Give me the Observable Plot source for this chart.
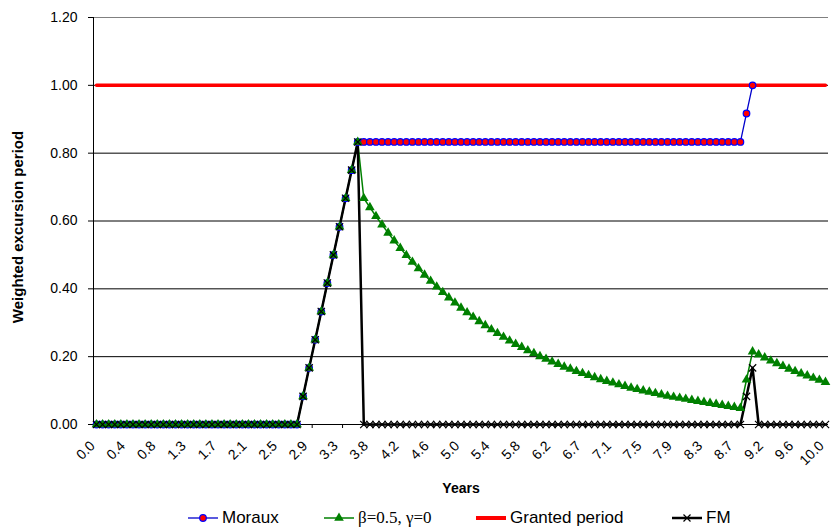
<!DOCTYPE html>
<html>
<head>
<meta charset="utf-8">
<script src="https://cdn.jsdelivr.net/npm/d3@7"></script>
<script src="https://cdn.jsdelivr.net/npm/@observablehq/plot@0.6"></script>
<style>
  html, body { margin: 0; padding: 0; background: #fff; }
  #wrap { position: relative; width: 834px; height: 529px; overflow: hidden; font-family: "Liberation Sans", Arial, sans-serif; }
  #legend { position: absolute; left: 0; top: 506px; width: 834px; height: 23px; }
  .item { position: absolute; top: 0; height: 23px; display: flex; align-items: center; font-size: 17px; color: #000; white-space: nowrap; }
  .item svg { margin-right: 4px; }
  .serif { font-family: "Liberation Serif", "Times New Roman", serif; font-size: 17px; }
</style>
</head>
<body>
<div id="wrap">
  <div id="chart"></div>
  <div id="legend"></div>
</div>
<script>
// x categories: monthly steps 0..120 (years 0.0 .. 10.0)
const tickLabels = ["0.0","0.4","0.8","1.3","1.7","2.1","2.5","2.9","3.3","3.8","4.2","4.6","5.0","5.4","5.8","6.2","6.7","7.1","7.5","7.9","8.3","8.7","9.2","9.6","10.0"];
const yTicks = [0, 0.2, 0.4, 0.6, 0.8, 1.0, 1.2];

const moraux = [
  0,0,0,0,0,0,0,0,0,0,
  0,0,0,0,0,0,0,0,0,0,
  0,0,0,0,0,0,0,0,0,0,
  0,0,0,0,
  0.083,0.167,0.250,0.333,0.417,0.500,0.583,0.667,0.750,
  0.833,0.833,0.833,0.833,0.833,0.833,0.833,0.833,0.833,0.833,
  0.833,0.833,0.833,0.833,0.833,0.833,0.833,0.833,0.833,0.833,
  0.833,0.833,0.833,0.833,0.833,0.833,0.833,0.833,0.833,0.833,
  0.833,0.833,0.833,0.833,0.833,0.833,0.833,0.833,0.833,0.833,
  0.833,0.833,0.833,0.833,0.833,0.833,0.833,0.833,0.833,0.833,
  0.833,0.833,0.833,0.833,0.833,0.833,0.833,0.833,0.833,0.833,
  0.833,0.833,0.833,0.833,
  0.917,1.000,
  null,null,null,null,null,null,null,null,null,null,null,null
];

const betaGamma = [
  0,0,0,0,0,0,0,0,0,0,
  0,0,0,0,0,0,0,0,0,0,
  0,0,0,0,0,0,0,0,0,0,
  0,0,0,0,
  0.083,0.167,0.250,0.333,0.417,0.500,0.583,0.667,0.750,
  0.833,
  0.667,0.640,0.614,0.589,0.565,0.542,0.520,0.499,0.479,0.460,
  0.441,0.423,0.406,0.390,0.374,0.359,0.344,0.330,0.317,0.304,
  0.292,0.280,0.269,0.258,0.247,0.237,0.228,0.218,0.210,0.201,
  0.193,0.185,0.178,0.170,0.164,0.157,0.151,0.145,0.139,0.133,
  0.128,0.123,0.118,0.113,0.108,0.104,0.100,0.096,0.092,0.088,
  0.084,0.081,0.078,0.075,0.072,0.069,0.066,0.063,0.060,0.057,
  0.054,0.051,0.048,
  0.132,0.215,
  0.206,0.197,0.188,0.180,0.172,0.164,0.157,0.150,0.144,0.137,0.131,0.125
];

const granted = [
  1,1,1,1,1,1,1,1,1,1, 1,1,1,1,1,1,1,1,1,1,
  1,1,1,1,1,1,1,1,1,1, 1,1,1,1,1,1,1,1,1,1,
  1,1,1,1,1,1,1,1,1,1, 1,1,1,1,1,1,1,1,1,1,
  1,1,1,1,1,1,1,1,1,1, 1,1,1,1,1,1,1,1,1,1,
  1,1,1,1,1,1,1,1,1,1, 1,1,1,1,1,1,1,1,1,1,
  1,1,1,1,1,1,1,1,1,1, 1,1,1,1,1,1,1,1,1,1,
  1
];

const fm = [
  0,0,0,0,0,0,0,0,0,0,
  0,0,0,0,0,0,0,0,0,0,
  0,0,0,0,0,0,0,0,0,0,
  0,0,0,0,
  0.083,0.167,0.250,0.333,0.417,0.500,0.583,0.667,0.750,
  0.833,
  0,0,0,0,0,0,0,0,0,0,
  0,0,0,0,0,0,0,0,0,0,
  0,0,0,0,0,0,0,0,0,0,
  0,0,0,0,0,0,0,0,0,0,
  0,0,0,0,0,0,0,0,0,0,
  0,0,0,0,0,0,0,0,0,0,
  0,0,0,
  0.083,0.167,
  0,0,0,0,0,0,0,0,0,0,0,0
];

const xi = (d, i) => i;
const yv = d => d;
const labelIdx = tickLabels.map((_, k) => k * 5);
const boundaries = tickLabels.map((_, k) => k * 5 + 0.5).filter(v => v < 120.5);

const chart = Plot.plot({
  width: 834,
  height: 506,
  marginLeft: 93,
  marginRight: 6,
  marginTop: 17,
  marginBottom: 82,
  style: { fontFamily: "'Liberation Sans', Arial, sans-serif", background: "#fff" },
  x: { domain: [-0.5, 120.5], axis: null },
  y: { domain: [0, 1.2], axis: null },
  marks: [
    Plot.ruleY(yTicks.filter(v => v > 0 && v < 1.2), { stroke: "#000", strokeWidth: 1 }),
    Plot.ruleY([1.2], { stroke: "#808080", strokeWidth: 1 }),
    Plot.ruleX([-0.5], { stroke: "#000", strokeWidth: 1 }),
    Plot.ruleY([0], { stroke: "#000", strokeWidth: 1 }),
    Plot.axisY(yTicks, { tickFormat: d => d.toFixed(2), tickSize: 5, tickPadding: 11, fontSize: 14, stroke: "#000", color: "#000", label: null }),
    Plot.axisX(labelIdx, { tickFormat: d => tickLabels[d / 5], tickRotate: -45, tickSize: 0, tickPadding: 19, dx: -4, fontSize: 14, label: null }),
    Plot.axisX(boundaries, { tickFormat: () => "", tickSize: 4, label: null }),
    Plot.text(["Weighted excursion period"], { frameAnchor: "left", rotate: -90, dx: -75, dy: 6, textAnchor: "middle", fontWeight: "bold", fontSize: 15, fill: "#000" }),
    Plot.text(["Years"], { frameAnchor: "bottom", dy: 68, textAnchor: "middle", fontWeight: "bold", fontSize: 14, fill: "#000" }),
    Plot.line(moraux, { x: xi, y: yv, stroke: "#0000cc", strokeWidth: 1.3 }),
    Plot.line(betaGamma, { x: xi, y: yv, stroke: "#008000", strokeWidth: 1.5 }),
    Plot.line(granted, { x: xi, y: yv, stroke: "#ff0000", strokeWidth: 3.5 }),
    Plot.line(fm, { x: xi, y: yv, stroke: "#000", strokeWidth: 2.5 }),
    Plot.dot(moraux, { x: xi, y: yv, r: 3.3, fill: "#ff0000", stroke: "#0000ff", strokeWidth: 1.2 }),
    Plot.dot(betaGamma, { x: xi, y: yv, symbol: "triangle", r: 3.6, fill: "#008000", stroke: "none" }),
    Plot.dot(fm, { x: xi, y: yv, symbol: "times", r: 3.4, stroke: "#000", strokeWidth: 1.2 })
  ]
});
document.getElementById("chart").appendChild(chart);

// Legend (below the SVG)
const legendItems = [
  { name: "Moraux", left: 188, line: "#0000cc", lw: 1.3, marker: "circle", serif: false },
  { name: "β=0.5, γ=0", left: 324, line: "#008000", lw: 1.5, marker: "triangle", serif: true },
  { name: "Granted period", left: 476, line: "#ff0000", lw: 4, marker: null, serif: false },
  { name: "FM", left: 672, line: "#000", lw: 2.5, marker: "times", serif: false }
];
const legend = d3.select("#legend");
for (const it of legendItems) {
  const item = legend.append("div").attr("class", "item").style("left", it.left + "px");
  const svg = item.append("svg").attr("width", 30).attr("height", 14);
  svg.append("line").attr("x1", 0).attr("x2", 30).attr("y1", 7).attr("y2", 7)
    .attr("stroke", it.line).attr("stroke-width", it.lw);
  if (it.marker === "circle") {
    svg.append("circle").attr("cx", 15).attr("cy", 7).attr("r", 3.3).attr("fill", "#ff0000").attr("stroke", "#0000ff").attr("stroke-width", 1.2);
  } else if (it.marker === "triangle") {
    svg.append("path").attr("transform", "translate(15,7)").attr("d", d3.symbol(d3.symbolTriangle, 40)()).attr("fill", "#008000");
  } else if (it.marker === "times") {
    svg.append("path").attr("d", "M11.5,3.5L18.5,10.5M18.5,3.5L11.5,10.5").attr("stroke", "#000").attr("stroke-width", 1.2);
  }
  item.append("span").attr("class", it.serif ? "serif" : "").text(it.name);
}
</script>
</body>
</html>
